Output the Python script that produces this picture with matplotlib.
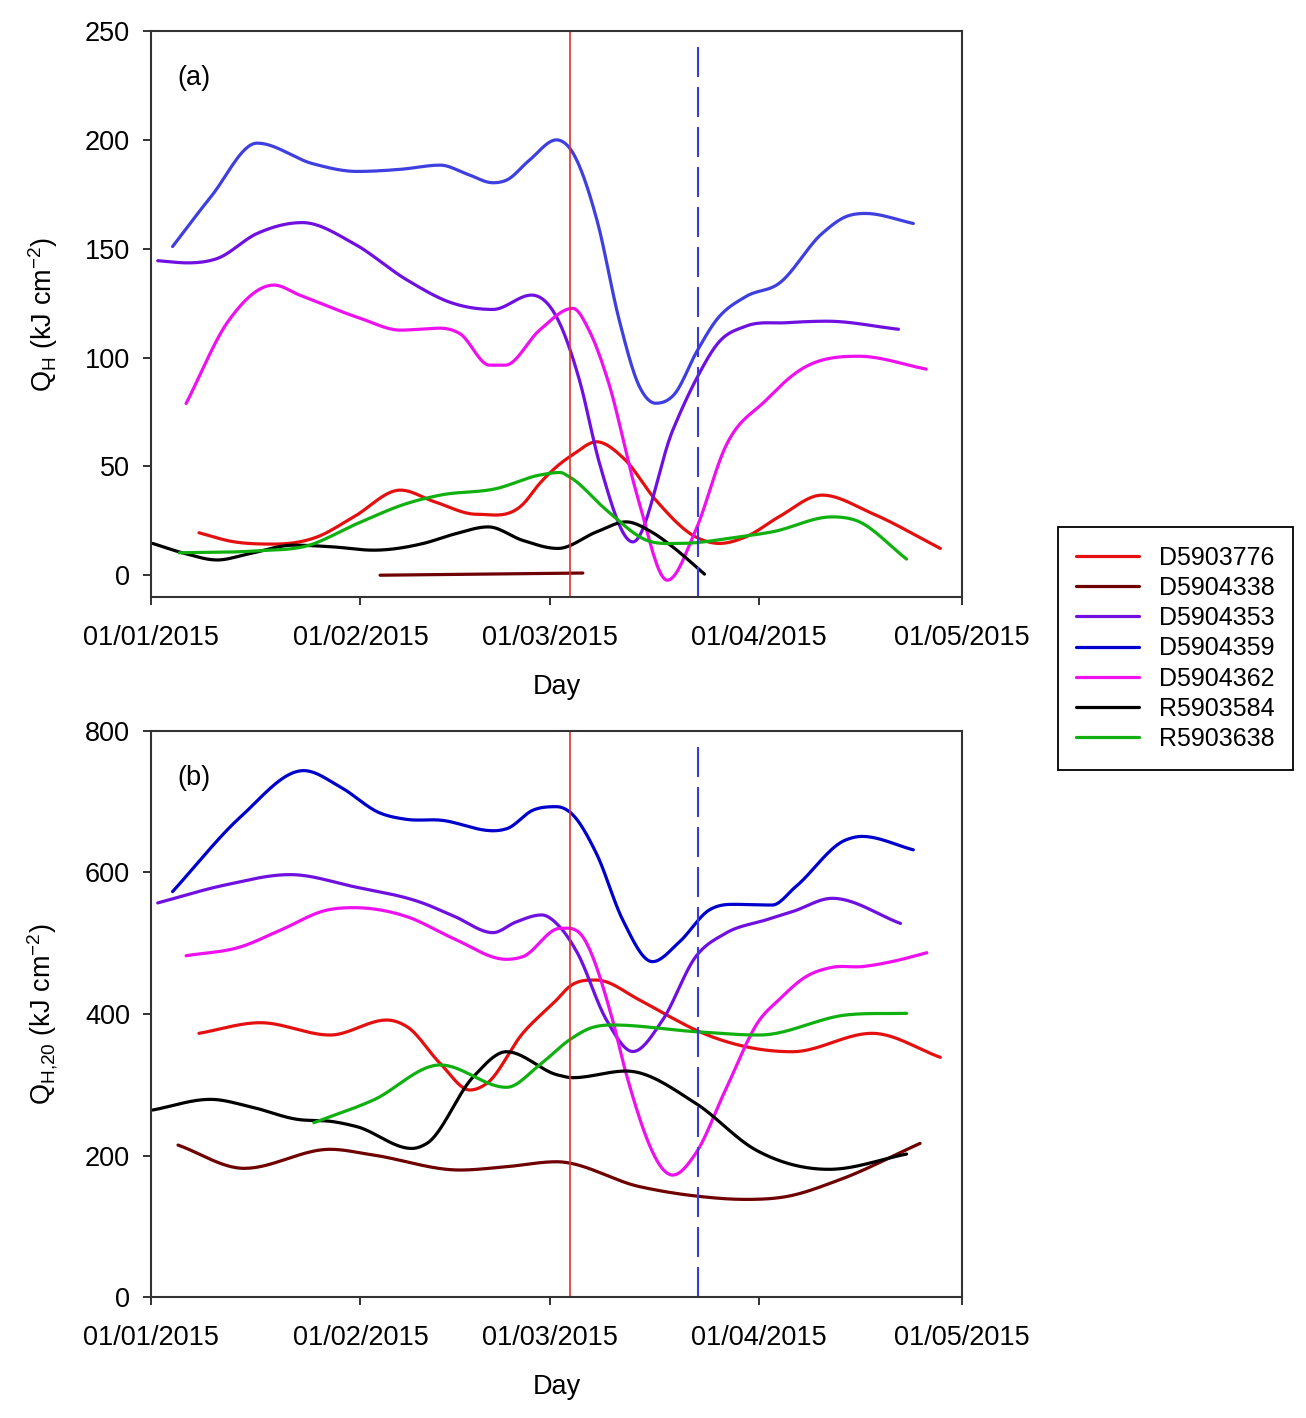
import numpy as np
import matplotlib.pyplot as plt

plt.rcParams['font.family'] = ['Liberation Sans', 'DejaVu Sans']
plt.rcParams['mathtext.default'] = 'regular'

# days since 01/01/2015
month_starts = [0, 31, 59, 90, 120]
month_labels = ['01/01/2015', '01/02/2015', '01/03/2015', '01/04/2015', '01/05/2015']

names = ['D5903776', 'D5904338', 'D5904353', 'D5904359', 'D5904362', 'R5903584', 'R5903638']

# ---- panel (a) : Q_H
a_days_d5903776 = [7.1, 12, 18.2, 24.6, 30, 36.9, 42, 48.2, 55, 57.5, 60, 62.7, 65.9, 70, 74.7, 80.6, 84.1, 88, 93, 99.3, 106.7, 116.8]
a_vals_d5903776 = [19.5, 15.5, 14.3, 17.6, 26.8, 39.1, 33.7, 28, 32.5, 42.1, 49.8, 56, 61.3, 53.5, 34.5, 17.6, 14.6, 17.6, 27, 36.8, 28.4, 12.3]

a_days_d5904338 = [33.9, 45, 55, 63.9]
a_vals_d5904338 = [0, 0.4, 0.7, 1.0]

a_days_d5904353 = [1.0, 5.4, 9.8, 15.7, 22.4, 30, 37.9, 44.7, 50.6, 56.3, 60, 63.4, 66.4, 71.3, 77.2, 80.6, 84, 88, 94, 100, 110.6]
a_vals_d5904353 = [144.5, 143.5, 145.5, 157, 162, 152.4, 135.6, 124.9, 122.1, 128.7, 118.7, 89.6, 51, 15.3, 66.6, 89.6, 107, 114.4, 116, 116.7, 113]

a_days_d5904359 = [3.2, 8.9, 15.7, 24, 30.5, 37, 42.8, 47, 50.6, 52.6, 56, 60, 62, 66, 69.3, 72.3, 74.7, 77.4, 80.8, 83.6, 88, 92.9, 99.3, 102.8, 105.7, 112.8]
a_vals_d5904359 = [151, 174, 198.5, 189, 185.5, 186.5, 188.4, 184, 180.3, 181.5, 190.7, 200, 196, 163, 117, 86.5, 79, 83, 103, 117, 128, 134, 157, 164.7, 166.2, 161.6]

a_days_d5904362 = [5.2, 11.5, 18.2, 22, 31, 36.9, 42.8, 45.7, 50.1, 52.4, 57.5, 62.4, 64.9, 67.6, 72, 76.4, 80.6, 85, 91, 95.9, 104.7, 114.7]
a_vals_d5904362 = [78.9, 117, 133.3, 128.7, 118, 112.6, 113.5, 111, 96.5, 96.5, 112.6, 122.6, 112, 89.6, 36, -2.3, 20.7, 59, 80.4, 94, 100.6, 94.7]

a_days_r5903584 = [0.25, 5, 9.8, 14.7, 21.1, 27, 32.9, 40.3, 45, 49.9, 55, 60.2, 66, 70.3, 74, 77.2, 81.9]
a_vals_r5903584 = [14.6, 10, 7, 10, 13.8, 13, 11.5, 14.6, 19, 22.2, 16, 12.3, 20, 24.5, 20, 13, 0.5]

a_days_r5903638 = [4.2, 15.7, 23.1, 30.5, 37.9, 42.8, 51.1, 57.5, 60.5, 61.9, 67.4, 73.3, 78.2, 87, 91.9, 100.8, 104.2, 111.8]
a_vals_r5903638 = [10.3, 11.2, 13.5, 23.7, 33, 36.8, 39.8, 46, 47.2, 45.2, 29.9, 16.1, 14.6, 17.6, 19.9, 26.8, 25.3, 7.4]

# ---- panel (b) : Q_H,20
b_days_d5903776 = [7.1, 16.2, 26.5, 34.9, 37.9, 42.8, 47.2, 49.7, 55, 60, 61.9, 65.9, 72.3, 77.2, 80.6, 88, 94.9, 106.7, 116.8]
b_vals_d5903776 = [372.7, 387.7, 370.3, 391.5, 382, 330, 292.6, 302, 372.7, 419.8, 438.6, 448, 419.8, 394, 377.4, 353.8, 346.7, 372.7, 338.8]

b_days_d5904338 = [4.0, 13.8, 26.5, 32.9, 45.7, 52.6, 60, 72.3, 80.6, 88, 93.9, 101.8, 113.8]
b_vals_d5904338 = [214.8, 181.9, 208.8, 200.7, 179.5, 184.2, 191.2, 156, 142.8, 138, 141.8, 165.4, 217.2]

b_days_d5904353 = [1.0, 10.8, 20.6, 30, 40.3, 45, 50.6, 54, 57.8, 60.5, 63, 67.4, 71.3, 75.7, 80.6, 85, 91, 95, 100.8, 110.9]
b_vals_d5904353 = [557, 582, 597, 580, 556.5, 537.5, 515, 530, 540, 523, 488, 391.5, 347, 391.5, 481, 514, 533, 545, 563.5, 528]

b_days_d5904359 = [3.2, 13.3, 22.6, 28, 33.9, 37.9, 42.8, 50.6, 52.8, 56.5, 60, 61.9, 65.9, 69.8, 74.2, 78.2, 82.6, 86, 91.9, 95.4, 102.8, 105.2, 112.8]
b_vals_d5904359 = [573, 679, 744, 721, 684, 675, 674, 659, 662.5, 688, 693, 686, 627, 533, 474, 502, 547, 555, 554, 580, 646, 651, 632]

b_days_d5904362 = [5.2, 13.3, 19.2, 26.1, 30, 37.9, 44.7, 52.6, 55, 60.5, 63.9, 68.3, 70.3, 77.2, 80.6, 85, 90, 92.9, 96.9, 100.8, 105.2, 109.6, 114.8]
b_vals_d5904362 = [482.4, 495, 518.7, 547, 550.3, 537.5, 507, 477.3, 481, 521, 509, 391.5, 316, 172.4, 203, 292.6, 391, 420, 452.7, 466, 467, 474, 486.6]

b_days_r5903584 = [0.25, 8.8, 14.7, 21.6, 27, 30.5, 38.6, 40.8, 47.7, 52.6, 60.2, 62.4, 70.3, 80.6, 89.5, 100.3, 111.8]
b_vals_r5903584 = [264.3, 279.4, 269, 251.2, 247.8, 240.7, 210, 217, 311.4, 346.7, 313.8, 310, 319.4, 273.8, 207.8, 180.5, 202.1]

b_days_r5903638 = [24.1, 32.9, 42.8, 52.6, 57.5, 61.9, 65, 68.3, 80.6, 90, 102.8, 111.8]
b_vals_r5903638 = [246.4, 278.4, 328, 296.4, 328, 363.3, 380, 384.5, 375, 370.3, 398.6, 401]

red_line_day = 62     # 04/03/2015
blue_line_day = 81    # 23/03/2015

colors_a = ['#E41010', '#6E0000', '#7010E0', '#3F3FE0', '#EE10EE', '#000000', '#10B010']
colors_b = ['#E41010', '#6E0000', '#7010E0', '#0000CC', '#EE10EE', '#000000', '#10B010']


# smooth curve through the read points: cubic hermite, flat at local extremes
def smooth(x, y, xs):
    x = np.asarray(x, float)
    y = np.asarray(y, float)
    n = len(x)
    h = np.diff(x)
    delta = np.diff(y) / h
    d = np.zeros(n)
    for k in range(1, n-1):
        if delta[k-1]*delta[k] > 0:
            d[k] = (h[k]*delta[k-1] + h[k-1]*delta[k]) / (h[k-1] + h[k])
    d[0] = delta[0]
    d[-1] = delta[-1]
    idx = np.clip(np.searchsorted(x, xs) - 1, 0, n-2)
    t = (xs - x[idx]) / h[idx]
    h00 = 2*t**3 - 3*t**2 + 1
    h10 = t**3 - 2*t**2 + t
    h01 = -2*t**3 + 3*t**2
    h11 = t**3 - t**2
    return h00*y[idx] + h10*h[idx]*d[idx] + h01*y[idx+1] + h11*h[idx]*d[idx+1]


def draw_panel(ax, series, colors, ylim, yticks, label, ylabel):
    lines = []
    for (days, vals), c, name in zip(series, colors, names):
        xs = np.linspace(days[0], days[-1], 500)
        ln, = ax.plot(xs, smooth(days, vals, xs), color=c, lw=2.3, label=name,
                      solid_capstyle='round')
        lines.append(ln)

    ax.axvline(red_line_day, color='#E03030', lw=1.2)
    ax.axvline(blue_line_day, ymax=0.984, color='#3A3AE0', lw=1.5,
               dashes=(14.4, 4.8))

    ax.set_xlim(0, 120)
    ax.set_ylim(*ylim)
    ax.set_xticks(month_starts)
    ax.set_xticklabels(month_labels)
    ax.set_yticks(yticks)
    ax.tick_params(direction='out', length=6, width=1.3, labelsize=19.5,
                   color='#222222')
    ax.tick_params(axis='x', pad=14)
    ax.tick_params(axis='y', pad=9)
    for s in ax.spines.values():
        s.set_linewidth(1.5)
        s.set_color('#333333')
    ax.set_xlabel('Day', fontsize=19.5, labelpad=17)
    ax.set_ylabel(ylabel, fontsize=19.5, labelpad=18)
    ax.text(0.033, 0.94, label, transform=ax.transAxes, fontsize=19.5, va='top')
    return lines


fig = plt.figure(figsize=(13.06, 14.18), dpi=100)
ax1 = fig.add_axes([0.1156, 0.579, 0.621, 0.3991])
ax2 = fig.add_axes([0.1156, 0.0853, 0.621, 0.3992])

series_a = [(a_days_d5903776, a_vals_d5903776), (a_days_d5904338, a_vals_d5904338),
            (a_days_d5904353, a_vals_d5904353), (a_days_d5904359, a_vals_d5904359),
            (a_days_d5904362, a_vals_d5904362), (a_days_r5903584, a_vals_r5903584),
            (a_days_r5903638, a_vals_r5903638)]
series_b = [(b_days_d5903776, b_vals_d5903776), (b_days_d5904338, b_vals_d5904338),
            (b_days_d5904353, b_vals_d5904353), (b_days_d5904359, b_vals_d5904359),
            (b_days_d5904362, b_vals_d5904362), (b_days_r5903584, b_vals_r5903584),
            (b_days_r5903638, b_vals_r5903638)]

draw_panel(ax1, series_a, colors_a, (-10, 250), [0, 50, 100, 150, 200, 250], '(a)',
           r'Q$_{H}$ (kJ cm$^{-2}$)')
lines_b = draw_panel(ax2, series_b, colors_b, (0, 800), [0, 200, 400, 600, 800], '(b)',
                     r'Q$_{H{,}20}$ (kJ cm$^{-2}$)')

leg = fig.legend(lines_b, names, loc='center', bbox_to_anchor=(0.900, 0.5427),
                 fontsize=18, handlelength=2.5, labelspacing=0.25, borderpad=0.75,
                 fancybox=False, edgecolor='black', framealpha=1)
leg.get_frame().set_linewidth(1.3)

fig.savefig('out.png', dpi=100)
